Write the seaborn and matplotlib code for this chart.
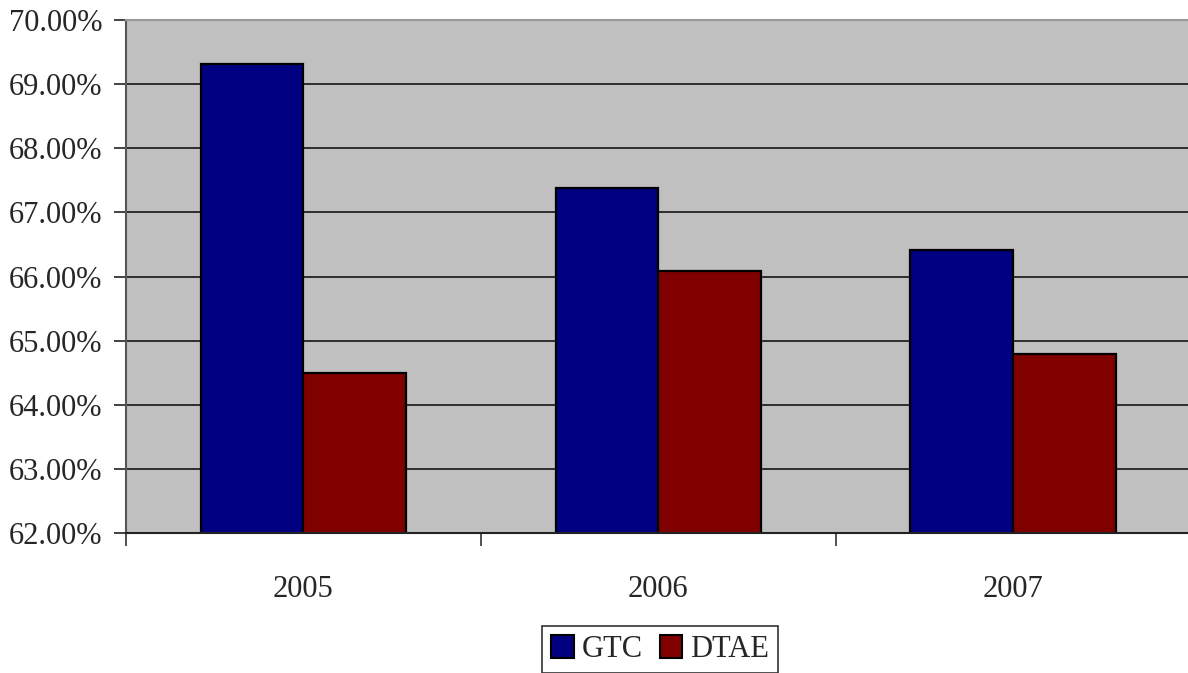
import matplotlib
matplotlib.use("Agg")
import matplotlib.pyplot as plt
from matplotlib.ticker import FixedLocator, FuncFormatter
import seaborn as sns
import pandas as pd

years = ["2005", "2006", "2007"]
gtc = [69.32, 67.38, 66.42]
dtae = [64.49, 66.09, 64.79]
series = ["GTC", "DTAE"]
colors = ["#000080", "#800000"]

df = pd.DataFrame({
    "year": years * 2,
    "value": gtc + dtae,
    "series": [series[0]] * 3 + [series[1]] * 3,
})

sns.set_theme(style="white")
plt.rcParams["font.family"] = ["Liberation Serif", "DejaVu Serif"]

fig = plt.figure(figsize=(11.88, 6.73), dpi=100)
ax = fig.add_axes([126 / 1188, 1 - 533 / 673, 1 - 126 / 1188 + 0.002, (533 - 20) / 673])
ax.set_facecolor("#C0C0C0")

sns.barplot(data=df, x="year", y="value", hue="series", palette=colors,
            width=0.578, edgecolor="black", linewidth=1.6, ax=ax,
            legend=False, saturation=1)

ax.set_ylim(62, 70)
ax.set_xlim(-0.5, 2.5)
ax.set_yticks(range(62, 71))
ax.yaxis.set_major_formatter(FuncFormatter(lambda v, _: f"{v:.2f}%"))
ax.yaxis.grid(True, color="#222222", linewidth=1.3)
ax.set_axisbelow(True)

ax.set_xticks(range(len(years)))
ax.set_xticklabels(years)
ax.xaxis.set_minor_locator(FixedLocator([-0.5, 0.5, 1.5, 2.5]))
ax.tick_params(axis="x", which="major", length=0, pad=30, labelsize=22)
ax.tick_params(axis="x", which="minor", length=9, width=1.2, color="#333333", direction="out", bottom=True)
ax.tick_params(axis="y", which="major", length=9, width=1.2, color="#222222", direction="out",
               left=True, labelsize=22, pad=8)

ax.set_xlabel("")
ax.set_ylabel("")
ax.spines["right"].set_visible(False)
ax.spines["top"].set_color("#999999")
ax.spines["top"].set_linewidth(1.5)
ax.spines["left"].set_color("#555555")
ax.spines["left"].set_linewidth(1.5)
ax.spines["bottom"].set_color("#222222")
ax.spines["bottom"].set_linewidth(1.5)

handles = [plt.Rectangle((0, 0), 1, 1, facecolor=c, edgecolor="black", linewidth=1.5) for c in colors]
leg = fig.legend(handles, series, loc="upper center", bbox_to_anchor=(660 / 1188, 1 - 626 / 673),
                 ncol=2, frameon=True, fancybox=False, fontsize=22, handlelength=0.75,
                 handleheight=0.75, handletextpad=0.25, columnspacing=0.55, borderpad=0.3,
                 borderaxespad=0)
leg.get_frame().set_edgecolor("black")
leg.get_frame().set_linewidth(1.2)

fig.savefig("out.png", dpi=100)
